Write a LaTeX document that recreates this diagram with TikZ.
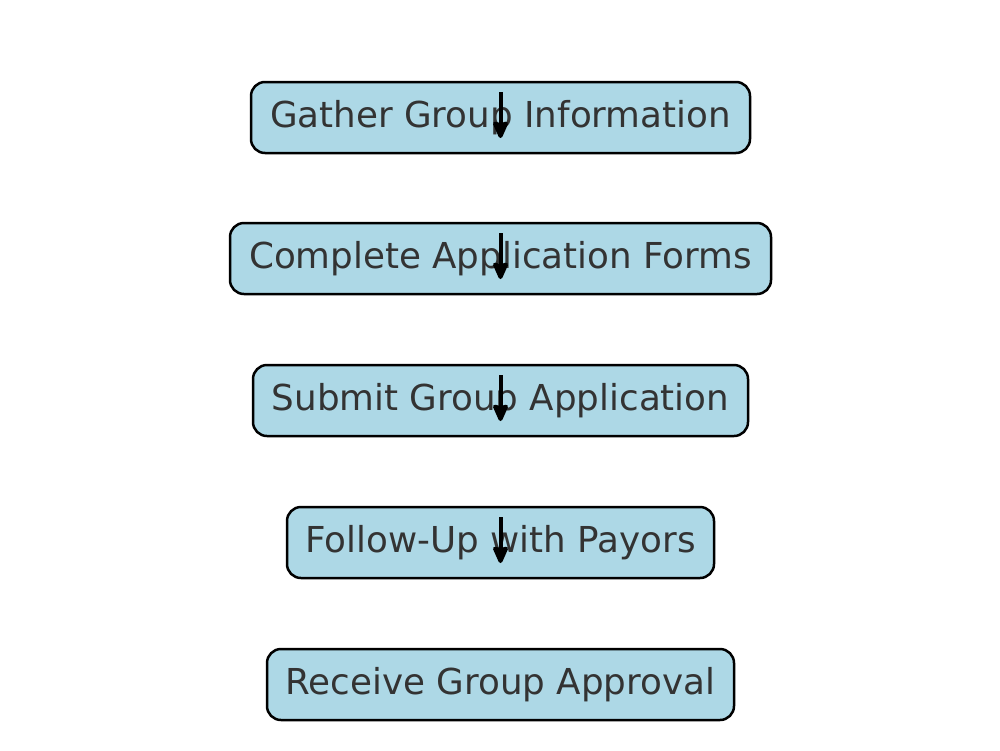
\documentclass[tikz,border=0pt]{standalone}
\usepackage{fontspec}
\setmainfont{DejaVu Sans}
\usetikzlibrary{arrows.meta}
\definecolor{boxfill}{HTML}{ADD8E6}
\definecolor{txt}{HTML}{333333}
\begin{document}
\begin{tikzpicture}[x=1pt,y=-1pt,
  stepbox/.style={draw=black, line width=2.5pt, fill=boxfill, rounded corners=14pt,
    minimum height=71pt, inner xsep=18pt, text=txt, font=\fontsize{35.7}{40}\selectfont},
  flow/.style={line width=4pt, -{Stealth[length=20pt,width=17pt,inset=2pt,round]}}]
\useasboundingbox (0,0) rectangle (1000,750);
\node[stepbox, minimum width=499pt] (b1) at (500.5,117.5) {Gather Group Information};
\node[stepbox, minimum width=541pt] (b2) at (500.5,258.5) {Complete Application Forms};
\node[stepbox, minimum width=495pt] (b3) at (500.5,400.5) {Submit Group Application};
\node[stepbox, minimum width=427pt] (b4) at (500.5,542.5) {Follow-Up with Payors};
\node[stepbox, minimum width=467pt] (b5) at (500.5,684.5) {Receive Group Approval};
\foreach \n in {b1,b2,b3,b4}{
  \coordinate (\n s) at ([yshift=25.5pt]\n.center);
  \coordinate (\n e) at ([yshift=-20.5pt]\n.center);
  \draw[flow] (\n s) -- (\n e);
}
\end{tikzpicture}
\end{document}
